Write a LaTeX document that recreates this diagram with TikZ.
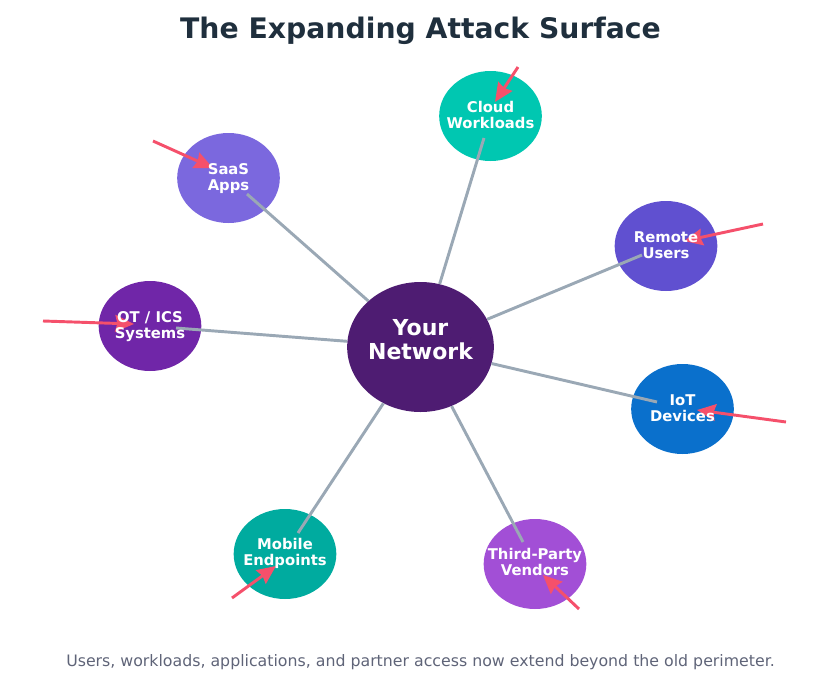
\documentclass[tikz,border=0pt]{standalone}
\usepackage{fontspec}
\setmainfont{DejaVu Sans}
\usetikzlibrary{shapes.geometric, arrows.meta}
\definecolor{hubcol}{HTML}{4E1C72}
\definecolor{saascol}{HTML}{7B68DE}
\definecolor{cloudcol}{HTML}{00C7B1}
\definecolor{remotecol}{HTML}{6050D0}
\definecolor{iotcol}{HTML}{0A70CC}
\definecolor{thirdcol}{HTML}{A24FD6}
\definecolor{mobilecol}{HTML}{00AB9F}
\definecolor{otcol}{HTML}{7026A8}
\definecolor{titlecol}{HTML}{1F2F3D}
\definecolor{notecol}{HTML}{5F6478}
\definecolor{spokecol}{HTML}{9AA8B5}
\definecolor{attackcol}{HTML}{F5506B}
\tikzset{
    hub/.style={ % The centre of the picture
        ellipse, fill=hubcol, inner sep=0pt,
        minimum width=110pt, minimum height=97.5pt
    },
    asset/.style={ % Sets the properties for each outer node
        ellipse, fill=#1, inner sep=0pt,
        minimum width=77pt, minimum height=67.5pt
    },
    hubtext/.style={align=center, text=white, font=\bfseries\fontsize{16.5}{18}\selectfont},
    assettext/.style={align=center, text=white, font=\bfseries\fontsize{11.1}{12}\selectfont},
    spoke/.style={draw=spokecol, line width=2.2pt},
    attack/.style={draw=attackcol, line width=2.2pt, -{Stealth[length=14pt,width=12.5pt,inset=1.5pt]}}
}

\begin{document}
\begin{tikzpicture}[x=0.75pt, y=-0.75pt]
        \useasboundingbox (0,0) rectangle (840,693);
        \node[text=titlecol, font=\bfseries\fontsize{21.2}{24}\selectfont] (title) at (420.5,31) {The Expanding Attack Surface};
        \node[text=notecol, font=\fontsize{11.83}{13}\selectfont] (note) at (420.5,662) {Users, workloads, applications, and partner access now extend beyond the old perimeter.};
        % outer nodes
        \node[asset=cloudcol]  (cloud)  at (490.5,116) {};
        \node[asset=remotecol] (remote) at (666,246)   {};
        \node[asset=iotcol]    (iot)    at (682.5,409) {};
        \node[asset=thirdcol]  (third)  at (535,564)   {};
        \node[asset=mobilecol] (mobile) at (285,554)   {};
        \node[asset=otcol]     (ot)     at (150,326)   {};
        \node[asset=saascol]   (saas)   at (228.5,178) {};
        % centre
        \node[hub] (net) at (420.5,347) {};
        % inner ends of the spokes
        \coordinate (cloudin)  at (484,138);
        \coordinate (remotein) at (642,255);
        \coordinate (iotin)    at (657,402);
        \coordinate (thirdin)  at (523,542);
        \coordinate (mobilein) at (298,533);
        \coordinate (otin)     at (176,328);
        \coordinate (saasin)   at (247,194);
        % attack tails and tips
        \coordinate (cloudfrom)  at (518,67);   \coordinate (cloudhit)  at (495,102);
        \coordinate (remotefrom) at (763,224);  \coordinate (remotehit) at (684,241);
        \coordinate (iotfrom)    at (786,422);  \coordinate (iothit)    at (697,410);
        \coordinate (thirdfrom)  at (579,609);  \coordinate (thirdhit)  at (543,575);
        \coordinate (mobilefrom) at (232,598);  \coordinate (mobilehit) at (276,566);
        \coordinate (otfrom)     at (43,321);   \coordinate (othit)     at (134,324);
        \coordinate (saasfrom)   at (153,141);  \coordinate (saashit)   at (213,168);

        \path
                (net) edge[spoke] (cloudin)
                (net) edge[spoke] (remotein)
                (net) edge[spoke] (iotin)
                (net) edge[spoke] (thirdin)
                (net) edge[spoke] (mobilein)
                (net) edge[spoke] (otin)
                (net) edge[spoke] (saasin)
        ;
        \path
                (cloudfrom)  edge[attack] (cloudhit)
                (remotefrom) edge[attack] (remotehit)
                (iotfrom)    edge[attack] (iothit)
                (thirdfrom)  edge[attack] (thirdhit)
                (mobilefrom) edge[attack] (mobilehit)
                (otfrom)     edge[attack] (othit)
                (saasfrom)   edge[attack] (saashit)
        ;
        % texts go on top of the lines
        \node[hubtext]   (nettext)    at (420.5,340) {Your\\Network};
        \node[assettext] (cloudtext)  at (490.5,114.5) {Cloud\\Workloads};
        \node[assettext] (remotetext) at (666,245) {Remote\\Users};
        \node[assettext] (iottext)    at (682.5,408) {IoT\\Devices};
        \node[assettext] (thirdtext)  at (535,562) {Third-Party\\Vendors};
        \node[assettext] (mobiletext) at (285,553) {Mobile\\Endpoints};
        \node[assettext] (ottext)     at (150,327) {OT / ICS\\Systems};
        \node[assettext] (saastext)   at (228.5,179) {SaaS\\Apps};
\end{tikzpicture}
\end{document}
